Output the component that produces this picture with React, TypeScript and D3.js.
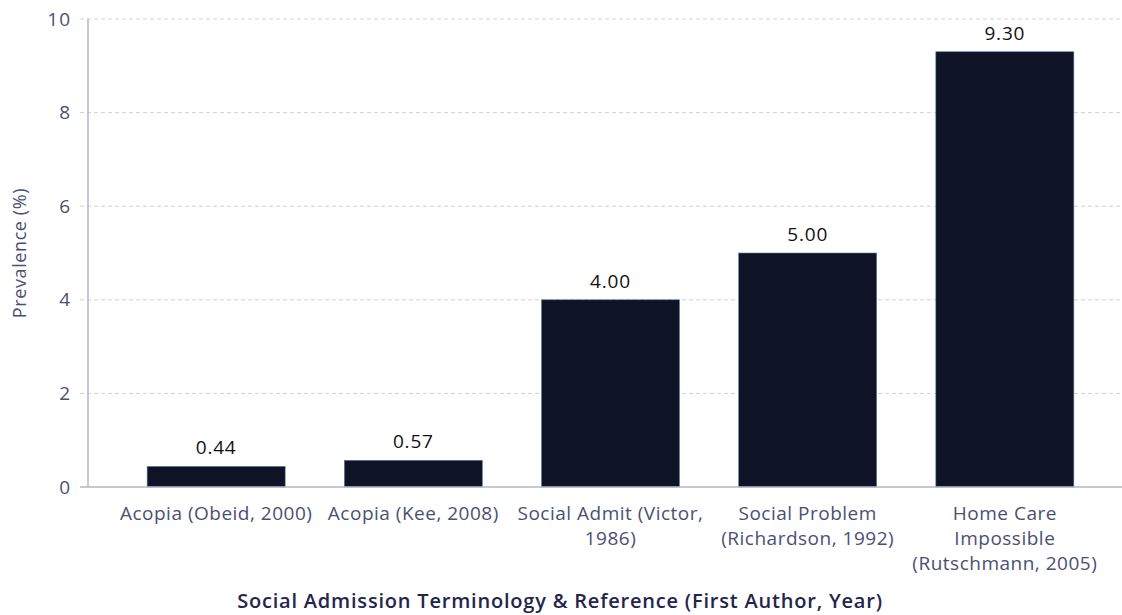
import { useEffect, useRef } from "react";
import * as d3 from "d3";

const categories = [
  ["Acopia (Obeid, 2000)"],
  ["Acopia (Kee, 2008)"],
  ["Social Admit (Victor,", "1986)"],
  ["Social Problem", "(Richardson, 1992)"],
  ["Home Care", "Impossible", "(Rutschmann, 2005)"],
];
const prevalence = [0.44, 0.57, 4.0, 5.0, 9.3];
const yTicks = [0, 2, 4, 6, 8, 10];

const W = 1122;
const H = 615;
const FONT = "'Open Sans', sans-serif";
const LABEL = "#4b4f73";

export default function App() {
  const ref = useRef<SVGSVGElement | null>(null);

  useEffect(() => {
    if (!ref.current) return;
    const svg = d3.select(ref.current);
    svg.selectAll("*").remove();

    const m = { left: 88, top: 19, bottom: 128 };
    const keys = categories.map((c) => c.join(" "));

    // plot runs a little past the right edge, as in the original
    const x = d3
      .scaleBand<string>()
      .domain(keys)
      .range([m.left, 1133])
      .paddingInner(0.3)
      .paddingOuter(0.3);

    const y = d3.scaleLinear().domain([0, 10]).range([H - m.bottom, m.top]);

    // grid
    svg
      .append("g")
      .selectAll("line")
      .data(yTicks.filter((t) => t > 0))
      .join("line")
      .attr("x1", m.left - 8)
      .attr("x2", W)
      .attr("y1", (d) => y(d))
      .attr("y2", (d) => y(d))
      .attr("stroke", "#cfd0da")
      .attr("stroke-dasharray", "4,3");

    // y tick labels
    svg
      .append("g")
      .attr("font-family", FONT)
      .attr("font-size", 19)
      .attr("letter-spacing", 1)
      .attr("fill", LABEL)
      .attr("text-anchor", "end")
      .selectAll("text")
      .data(yTicks)
      .join("text")
      .attr("x", m.left - 17)
      .attr("y", (d) => y(d))
      .attr("dy", "0.35em")
      .text((d) => d);

    // bars
    svg
      .append("g")
      .selectAll("rect")
      .data(prevalence)
      .join("rect")
      .attr("x", (_, i) => x(keys[i])!)
      .attr("width", x.bandwidth())
      .attr("y", (d) => y(d))
      .attr("height", (d) => y(0) - y(d))
      .attr("fill", "#0e1326")
      .attr("stroke", "#5a7aa8")
      .attr("stroke-width", 0.6);

    // value labels
    svg
      .append("g")
      .attr("font-family", FONT)
      .attr("font-size", 19)
      .attr("letter-spacing", 0.8)
      .attr("fill", "#111")
      .attr("text-anchor", "middle")
      .selectAll("text")
      .data(prevalence)
      .join("text")
      .attr("x", (_, i) => x(keys[i])! + x.bandwidth() / 2)
      .attr("y", (d) => y(d) - 12)
      .text((d) => d.toFixed(2));

    // axes lines
    svg
      .append("line")
      .attr("x1", m.left)
      .attr("x2", m.left)
      .attr("y1", m.top)
      .attr("y2", y(0))
      .attr("stroke", "#b4b5c8")
      .attr("stroke-width", 1.5);
    svg
      .append("line")
      .attr("x1", m.left - 8)
      .attr("x2", W)
      .attr("y1", y(0))
      .attr("y2", y(0))
      .attr("stroke", "#b4b5c8")
      .attr("stroke-width", 1.5);

    // x tick labels
    const xl = svg
      .append("g")
      .attr("font-family", FONT)
      .attr("font-size", 19)
      .attr("letter-spacing", 0.5)
      .attr("fill", LABEL)
      .attr("text-anchor", "middle")
      .selectAll("text")
      .data(categories)
      .join("text")
      .attr("x", (_, i) => x(keys[i])! + x.bandwidth() / 2)
      .attr("y", y(0) + 33);
    xl.each(function (lines) {
      const t = d3.select(this);
      const cx = t.attr("x");
      lines.forEach((ln, j) => {
        t.append("tspan")
          .attr("x", cx)
          .attr("dy", j === 0 ? 0 : 25)
          .text(ln);
      });
    });

    // axis titles
    svg
      .append("text")
      .attr("transform", `translate(26,${(m.top + y(0)) / 2}) rotate(-90)`)
      .attr("text-anchor", "middle")
      .attr("font-family", FONT)
      .attr("font-size", 18)
      .attr("letter-spacing", 0.6)
      .attr("fill", LABEL)
      .text("Prevalence (%)");

    svg
      .append("text")
      .attr("x", 560)
      .attr("y", 608)
      .attr("text-anchor", "middle")
      .attr("font-family", FONT)
      .attr("font-size", 20)
      .attr("letter-spacing", 0.8)
      .attr("font-weight", 600)
      .attr("fill", "#23264a")
      .text("Social Admission Terminology & Reference (First Author, Year)");
  }, []);

  return (
    <svg
      ref={ref}
      width={W}
      height={H}
      style={{ position: "absolute", left: 0, top: 0, background: "#fff" }}
    />
  );
}
